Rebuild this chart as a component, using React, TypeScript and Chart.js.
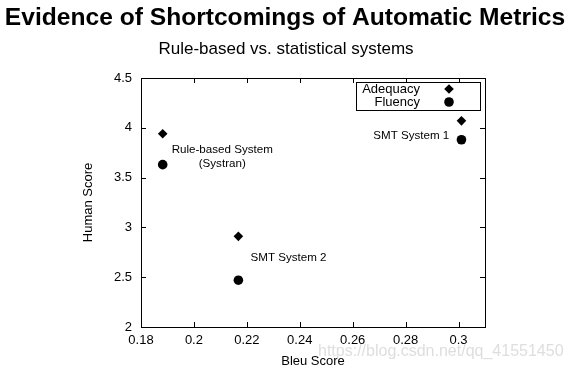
import React, { useEffect, useRef } from "react";
import { Chart, registerables } from "chart.js";

Chart.register(...registerables);

const systems = ["Rule-based System", "SMT System 1", "SMT System 2"];
const bleu = [0.1882, 0.3011, 0.2168];
const adequacy = [3.94, 4.07, 2.91];
const fluency = [3.63, 3.88, 2.47];

const xTicks = [0.18, 0.2, 0.22, 0.24, 0.26, 0.28, 0.3];
const yTicks = [2, 2.5, 3, 3.5, 4, 4.5];

// annotation anchors in data coordinates (like gnuplot "set label ... at x,y")
const labelTexts = ["Rule-based System", "(Systran)", "SMT System 1", "SMT System 2"];
const labelX = [0.2107, 0.2107, 0.2965, 0.2214];
const labelY = [3.777, 3.637, 3.917, 2.697];
const labelAlign: CanvasTextAlign[] = ["center", "center", "right", "left"];

const TITLE = "Evidence of Shortcomings of Automatic Metrics";
const SUBTITLE = "Rule-based vs. statistical systems";
const X_TITLE = "Bleu Score";
const Y_TITLE = "Human Score";
const WATERMARK = "https://blog.csdn.net/qq_41551450";

const FONT = "'Liberation Sans', Arial, Helvetica, sans-serif";

const drawPlugin = {
  id: "gnuplotDecor",
  afterDraw(chart: any) {
    const { ctx, chartArea } = chart;
    const xs = chart.scales.x;
    const ys = chart.scales.y;
    const { left, right, top, bottom } = chartArea;
    ctx.save();
    // frame
    ctx.strokeStyle = "#000";
    ctx.lineWidth = 1;
    ctx.strokeRect(left + 0.5, top + 0.5, right - left, bottom - top);
    // inward ticks
    const tl = 5;
    ctx.beginPath();
    xTicks.forEach((v) => {
      const px = Math.round(xs.getPixelForValue(v)) + 0.5;
      ctx.moveTo(px, bottom);
      ctx.lineTo(px, bottom - tl);
      ctx.moveTo(px, top);
      ctx.lineTo(px, top + tl);
    });
    yTicks.forEach((v) => {
      const py = Math.round(ys.getPixelForValue(v)) + 0.5;
      ctx.moveTo(left, py);
      ctx.lineTo(left + tl, py);
      ctx.moveTo(right, py);
      ctx.lineTo(right - tl, py);
    });
    ctx.stroke();

    // titles
    ctx.fillStyle = "#000";
    ctx.textAlign = "center";
    ctx.textBaseline = "middle";
    ctx.font = `bold 24.6px ${FONT}`;
    ctx.fillText(TITLE, 285, 18);
    ctx.font = `17px ${FONT}`;
    ctx.fillText(SUBTITLE, 286, 49);

    // axis titles
    ctx.font = `13px ${FONT}`;
    ctx.fillText(X_TITLE, (left + right) / 2, 361);
    ctx.save();
    ctx.translate(88, (top + bottom) / 2);
    ctx.rotate(-Math.PI / 2);
    ctx.fillText(Y_TITLE, 0, 0);
    ctx.restore();

    // point annotations
    ctx.font = `11.6px ${FONT}`;
    labelTexts.forEach((t, i) => {
      ctx.textAlign = labelAlign[i];
      ctx.fillText(t, xs.getPixelForValue(labelX[i]), ys.getPixelForValue(labelY[i]));
    });

    // legend box
    const bx = 356, by = 82, bw = 124, bh = 28;
    ctx.strokeRect(bx + 0.5, by + 0.5, bw, bh);
    ctx.font = `13px ${FONT}`;
    ctx.textAlign = "right";
    ctx.fillText("Adequacy", 420, by + 7);
    ctx.fillText("Fluency", 420, by + 20);
    // markers
    const mx = 449;
    ctx.beginPath();
    ctx.moveTo(mx, by + 7 - 4.8);
    ctx.lineTo(mx + 4.8, by + 7);
    ctx.lineTo(mx, by + 7 + 4.8);
    ctx.lineTo(mx - 4.8, by + 7);
    ctx.closePath();
    ctx.fill();
    ctx.beginPath();
    ctx.arc(mx, by + 20, 4.8, 0, Math.PI * 2);
    ctx.fill();

    // watermark
    ctx.fillStyle = "rgba(200,200,200,0.6)";
    ctx.textAlign = "left";
    ctx.font = `16px ${FONT}`;
    ctx.fillText(WATERMARK, 318, 352);
    ctx.restore();
  },
};

export default function App() {
  const ref = useRef<HTMLCanvasElement>(null);
  useEffect(() => {
    if (!ref.current) return;
    const chart = new Chart(ref.current, {
      type: "scatter",
      data: {
        datasets: [
          {
            label: "Adequacy",
            data: bleu.map((b, i) => ({ x: b, y: adequacy[i] })),
            pointStyle: "rectRot",
            pointRadius: 4.8,
            backgroundColor: "#000",
            borderColor: "#000",
            borderWidth: 0,
          },
          {
            label: "Fluency",
            data: bleu.map((b, i) => ({ x: b, y: fluency[i] })),
            pointStyle: "circle",
            pointRadius: 4.8,
            backgroundColor: "#000",
            borderColor: "#000",
            borderWidth: 0,
          },
        ],
      },
      options: {
        responsive: false,
        animation: false,
        layout: { padding: { top: 78, right: 85, left: 0, bottom: 0 } },
        plugins: {
          legend: { display: false },
          tooltip: { enabled: false },
          title: { display: false },
        },
        scales: {
          x: {
            type: "linear",
            min: 0.18,
            max: 0.31,
            grid: { display: false, drawTicks: false },
            border: { display: false },
            afterFit: (s: any) => {
              s.height = 44;
            },
            afterBuildTicks: (s: any) => {
              s.ticks = xTicks.map((v) => ({ value: v }));
            },
            ticks: {
              padding: 6,
              color: "#000",
              font: { family: FONT, size: 13 },
              callback: (v: any) => String(Number(Number(v).toFixed(2))),
            },
          },
          y: {
            type: "linear",
            min: 2,
            max: 4.5,
            grid: { display: false, drawTicks: false },
            border: { display: false },
            afterFit: (s: any) => {
              s.width = 141;
            },
            afterBuildTicks: (s: any) => {
              s.ticks = yTicks.map((v) => ({ value: v }));
            },
            ticks: {
              padding: 9,
              color: "#000",
              font: { family: FONT, size: 13 },
              callback: (v: any) => String(Number(Number(v).toFixed(2))),
            },
          },
        },
      },
      plugins: [drawPlugin],
    });
    return () => chart.destroy();
  }, []);
  return (
    <div style={{ position: "absolute", left: 0, top: 0, width: 570, height: 371, background: "#fff" }}>
      <canvas ref={ref} width={570} height={371} style={{ display: "block" }} />
    </div>
  );
}
